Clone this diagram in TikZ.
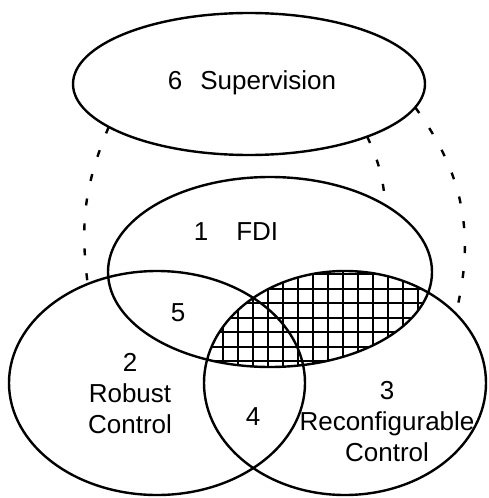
\documentclass[tikz,border=0pt]{standalone}
\usepackage{fontspec}
\setmainfont{Liberation Sans}
\usetikzlibrary{shapes.geometric}

\begin{document}
\begin{tikzpicture}
	 [x=0.5pt,y=-0.5pt,
	  set/.style={ellipse,draw,line width=1.2pt,inner sep=0pt,outer sep=0pt},
	  lbl/.style={font=\fontsize{13}{15.5}\selectfont,align=center,inner sep=0pt},
	  link/.style={line width=1.2pt,dash pattern=on 3.5pt off 9pt}]
	\useasboundingbox (0,0) rectangle (488,498);

	% part shared by FDI and reconfigurable control
	\begin{scope}
	  \clip (270,272) ellipse [x radius=162,y radius=95];
	  \clip (345,383) ellipse [x radius=141,y radius=112];
	  \foreach \x in {208,223,...,448}
	    \draw[line width=1pt] (\x,260) -- (\x,380);
	  \foreach \y in {274,288.5,...,376}
	    \draw[line width=1pt] (190,\y) -- (450,\y);
	\end{scope}

	  \node (sup)[set,minimum width=176pt,minimum height=71pt] at (249,84) {};
	  \node (fdi)[set,minimum width=162pt,minimum height=95pt] at (270,272) {};
	  \node (rob)[set,minimum width=148pt,minimum height=112pt] at (157,383) {};
	  \node (rec)[set,minimum width=141pt,minimum height=112pt] at (345,383) {};

	\node (l6)[lbl] at (252,83) {6\hspace{9pt}Supervision};
	\node (l1)[lbl] at (236,232) {1\hspace{14pt}FDI};
	\node (l5)[lbl] at (178,313) {5};
	\node (l2)[lbl] at (130,394) {2\\Robust\\Control};
	\node (l3)[lbl] at (387,422) {3\\Reconfigurable\\Control};
	\node (l4)[lbl] at (253,417) {4};

	\foreach \from/\to/\bend in {sup.197/rob.125/-15,sup.336/fdi.30/10,sup.352/rec.32/25}
    \draw[link] (\from) to[bend left=\bend] (\to);

\end{tikzpicture}
\end{document}
